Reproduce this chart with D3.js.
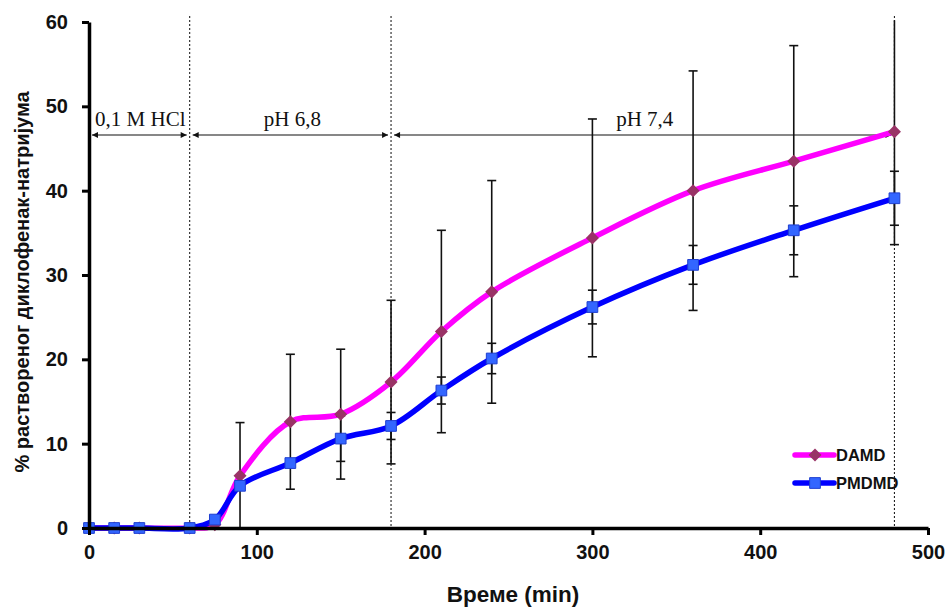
<!DOCTYPE html>
<html><head><meta charset="utf-8">
<script src="https://cdn.jsdelivr.net/npm/d3@7"></script>
<style>body{margin:0;background:#fff}svg{display:block}</style>
</head><body><svg id="c" width="947" height="608"></svg>
<script>
// ---- data ----
const times    = [0, 15, 30, 60, 75, 90, 120, 150, 180, 210, 240, 300, 360, 420, 480];
const damd     = [0, 0, 0, 0, 0.4, 6.2, 12.6, 13.5, 17.3, 23.3, 28.0, 34.4, 40.0, 43.5, 47.0];
const damdErr  = [0, 0, 0, 0, 0, 6.3, 8.0, 7.7, 9.7, 12.0, 13.2, 14.1, 14.2, 13.7, 13.4];
const pmdmd    = [0, 0, 0, 0, 1.0, 5.0, 7.7, 10.6, 12.1, 16.3, 20.1, 26.2, 31.2, 35.3, 39.1];
const pmdmdErr = [0, 0, 0, 0, 0, 0.4, 0.4, 2.7, 1.6, 1.6, 1.8, 2.0, 2.3, 2.9, 3.2];
const seriesNames = ["DAMD", "PMDMD"];
const xTicks = [0, 100, 200, 300, 400, 500];
const yTicks = [0, 10, 20, 30, 40, 50, 60];
const phaseBounds = [0, 60, 180, 480];
const phaseLabels = ["0,1 M HCl", "pH 6,8", "pH 7,4"];
const phaseDividers = [60, 180, 480];
const arrowLevel = 46.6;
const xTitle = "Време (min)";
const yTitle = "% раствореног диклофенак-натријума";

// ---- layout ----
const svg = d3.select("#c");
const x = d3.scaleLinear().domain([0, 500]).range([89, 928]);
const y = d3.scaleLinear().domain([0, 60]).range([528, 22]);
const yTopClip = 60.2;

// divider dotted lines
svg.append("g").selectAll("line").data(phaseDividers).join("line")
  .attr("x1", d => x(d)).attr("x2", d => x(d))
  .attr("y1", 16).attr("y2", y(0))
  .attr("stroke", "#222").attr("stroke-width", 1.1)
  .attr("stroke-dasharray", "2,2");

// arrows
const defs = svg.append("defs");
defs.append("marker").attr("id", "ah").attr("viewBox", "0 0 10 10")
  .attr("refX", 10).attr("refY", 5).attr("markerWidth", 7).attr("markerHeight", 6)
  .attr("orient", "auto-start-reverse").attr("markerUnits", "userSpaceOnUse")
  .append("path").attr("d", "M0,0 L10,5 L0,10 z").attr("fill", "#111");
const phases = phaseLabels.map((l, i) => ({label: l, a: phaseBounds[i], b: phaseBounds[i + 1]}));
const pg = svg.append("g");
pg.selectAll("line").data(phases).join("line")
  .attr("x1", d => x(d.a) + 3).attr("x2", d => x(d.b) - 3)
  .attr("y1", y(arrowLevel)).attr("y2", y(arrowLevel))
  .attr("stroke", "#111").attr("stroke-width", 1.2)
  .attr("marker-start", "url(#ah)").attr("marker-end", "url(#ah)");
pg.selectAll("text").data(phases).join("text")
  .attr("x", d => x((d.a + d.b) / 2) + (d.a === 0 ? 1 : 2))
  .attr("y", y(arrowLevel) - 9)
  .attr("text-anchor", "middle")
  .attr("font-family", "'Liberation Serif','Times New Roman',serif")
  .attr("font-size", 21).attr("fill", "#111")
  .text(d => d.label);

// series
const series = [
  {name: seriesNames[0], vals: damd, err: damdErr, line: "#ff00ff", mark: "#993366", shape: "diamond"},
  {name: seriesNames[1], vals: pmdmd, err: pmdmdErr, line: "#0000ff", mark: "#3366ff", shape: "square"}
];
const lineGen = d3.line().x(d => x(d[0])).y(d => y(d[1])).curve(d3.curveCatmullRom.alpha(0.5));

series.forEach(s => {
  svg.append("path").datum(times.map((t, i) => [t, s.vals[i]]))
    .attr("d", lineGen).attr("fill", "none")
    .attr("stroke", s.line).attr("stroke-width", 5.5)
    .attr("stroke-linejoin", "round").attr("stroke-linecap", "round");
});

// error bars
series.forEach(s => {
  const eb = svg.append("g").attr("stroke", "#111").attr("stroke-width", 1.6);
  times.forEach((t, i) => {
    const e = s.err[i];
    if (!e) return;
    const hi = s.vals[i] + e, lo = s.vals[i] - e;
    const hiC = Math.min(hi, yTopClip), loC = Math.max(lo, 0);
    eb.append("line").attr("x1", x(t)).attr("x2", x(t)).attr("y1", y(hiC)).attr("y2", y(loC));
    if (hi <= yTopClip) eb.append("line").attr("x1", x(t) - 4.5).attr("x2", x(t) + 4.5).attr("y1", y(hi)).attr("y2", y(hi));
    if (lo >= 0) eb.append("line").attr("x1", x(t) - 4.5).attr("x2", x(t) + 4.5).attr("y1", y(lo)).attr("y2", y(lo));
  });
});

// markers
const markPath = shape => shape === "diamond"
  ? d3.symbol().type(d3.symbolSquare).size(85)()
  : d3.symbol().type(d3.symbolSquare).size(115)();
series.forEach(s => {
  svg.append("g").selectAll("path").data(times.map((t, i) => [t, s.vals[i]])).join("path")
    .attr("d", markPath(s.shape))
    .attr("transform", d => `translate(${x(d[0])},${y(d[1])})` + (s.shape === "diamond" ? " rotate(45)" : ""))
    .attr("fill", s.mark)
    .attr("stroke", s.shape === "square" ? "#1f3fd0" : "none").attr("stroke-width", 1);
});

// axes
const font = "'Liberation Sans',Arial,sans-serif";
const xAxis = svg.append("g").attr("transform", `translate(0,${y(0)})`)
  .call(d3.axisBottom(x).tickValues(xTicks).tickSize(7).tickPadding(10).tickSizeOuter(0));
const yAxis = svg.append("g").attr("transform", `translate(${x(0)},0)`)
  .call(d3.axisLeft(y).tickValues(yTicks).tickSize(7).tickPadding(14).tickSizeOuter(0));
[xAxis, yAxis].forEach(a => {
  a.select(".domain").attr("stroke", "#000").attr("stroke-width", 3.5);
  a.selectAll(".tick line").attr("stroke", "#000").attr("stroke-width", 3);
  a.selectAll(".tick text").attr("font-family", font).attr("font-weight", "bold")
    .attr("font-size", 20).attr("fill", "#111");
});

// axis titles
svg.append("text").attr("x", 513).attr("y", 602).attr("text-anchor", "middle")
  .attr("font-family", font).attr("font-weight", "bold").attr("font-size", 22.5).attr("fill", "#111")
  .text(xTitle);
svg.append("text").attr("transform", "translate(29,282) rotate(-90)").attr("text-anchor", "middle")
  .attr("font-family", font).attr("font-weight", "bold").attr("font-size", 20).attr("fill", "#111")
  .text(yTitle);

// legend
const lg = svg.append("g");
series.forEach((s, i) => {
  const ly = 455 + i * 28;
  lg.append("line").attr("x1", 795).attr("x2", 834).attr("y1", ly).attr("y2", ly)
    .attr("stroke", s.line).attr("stroke-width", 5.5).attr("stroke-linecap", "round");
  lg.append("path")
    .attr("d", markPath(s.shape))
    .attr("transform", `translate(815,${ly})` + (s.shape === "diamond" ? " rotate(45)" : ""))
    .attr("fill", s.mark).attr("stroke", s.shape === "square" ? "#1f3fd0" : "none");
  lg.append("text").attr("x", 836).attr("y", ly + 6)
    .attr("font-family", font).attr("font-weight", "bold").attr("font-size", 16.5).attr("fill", "#111")
    .text(s.name);
});
</script>
</body></html>
